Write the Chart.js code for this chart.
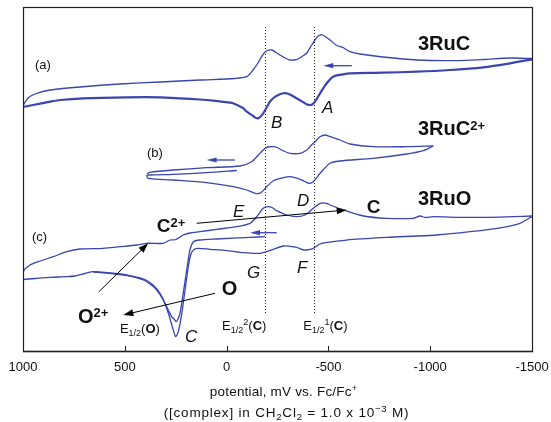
<!DOCTYPE html>
<html><head><meta charset="utf-8">
<script src="https://cdn.jsdelivr.net/npm/chart.js@4/dist/chart.umd.min.js"></script>
<style>html,body{margin:0;padding:0;background:#fff;}</style>
</head><body>
<canvas id="cv" width="551" height="422"></canvas>
<script>
// ---- DATA (potential in mV vs Fc/Fc+, current in arbitrary offset units) ----
const xTickValues = [1000, 500, 0, -500, -1000, -1500];
const halfWavePotentials = [-189, -431];   // E1/2^2(C), E1/2^1(C)
const dottedSpan = [38, 324];

// (a) 3RuC
const ruC_upper = [[1000,244],[995,247],[975,253],[941,257],[867,261],[720,264],[524,267],[327,269],[131,271],[-41,272.5],[-99,274.3],[-130,281],[-154,288],[-172,294.3],[-189,299],[-203,300.7],[-222,301],[-243,298.5],[-262,296],[-287,293],[-311,291],[-331,291],[-351,292],[-370,294.5],[-394,298],[-418,306],[-443,313.7],[-459,316],[-472,316],[-488,314],[-508,311],[-541,305.5],[-572,303.5],[-606,299.3],[-655,297],[-768,294],[-934,291],[-1097,290.3],[-1260,291.5],[-1392,293],[-1500,292.5]];
const ruC_lower = [[-1500,291.7],[-1392,287.7],[-1260,283.7],[-1097,281],[-935,279.3],[-768,278.3],[-606,277.7],[-572,276.7],[-523,274.3],[-492,267.7],[-459,257.7],[-434,249.3],[-420,246.5],[-410,246],[-395,246.5],[-385,247.7],[-344,252.7],[-311,256.5],[-295,257.7],[-272,257.5],[-254,256],[-233,253.5],[-213,249.3],[-180,237.7],[-156,232.7],[-140,233.5],[-131,235],[-99,239.3],[-82,242.7],[-32,247.7],[-17,248.3],[65,250.3],[131,251.5],[229,252.7],[327,253.7],[491,253.7],[704,252.7],[818,251],[867,249.3],[951,246],[1000,244]];

// (b) 3RuC2+
const ruC2_first = [[-50,180.5],[98,178.3],[262,176.7],[376,176],[392,175.5],[385,172.7],[262,171],[98,168.3],[-33,164.3],[-99,161],[-140,157.7],[-168,158.3],[-197,164.3],[-230,170.3],[-279,173.3],[-311,174.3],[-361,171.7],[-385,169.5],[-405,167.7],[-426,169.3],[-459,177.7],[-508,187.7],[-557,190],[-719,192.7],[-885,197],[-966,200.3],[-1015,205]];
const ruC2_second = [[-1015,205],[-885,204.3],[-721,204.3],[-606,207],[-557,211],[-508,214.3],[-483,216],[-459,214.3],[-434,209.3],[-410,204.5],[-394,201],[-361,197.7],[-311,197.7],[-277,200.3],[-248,203.5],[-230,204.3],[-203,204],[-189,202.7],[-156,196],[-123,189.3],[-66,185],[98,183.3],[262,181],[376,178.7],[392,177]];

// (c) 3RuO
const ruO_start = [[-189,114.3],[-115,113.7],[48,112],[131,111],[163,109.3],[180,101],[196,81],[213,57.7],[229,37.7],[241,31],[248,29.3],[258,32],[270,34.3],[294,44.3],[327,57.7],[361,66],[392,70.5],[425,73],[489,75.5],[587,78],[655,79]];
const ruO_upper = [[1000,71.5],[999,79.3],[966,86],[916,90],[851,94.3],[785,99.3],[720,102],[606,102.7],[524,104.3],[442,106],[392,107.7],[311,107.7],[278,111],[248,111.5],[213,116],[180,118],[131,119.3],[48,121.7],[-50,124.3],[-115,127.7],[-148,134.3],[-180,142.7],[-205,144.3],[-223,143.5],[-246,140.3],[-295,136],[-344,134.3],[-385,136],[-426,142.7],[-459,147.7],[-492,147.7],[-508,146],[-573,141],[-672,135],[-787,132.7],[-917,132.7],[-950,135],[-975,133.5],[-1015,134.3],[-1147,133.7],[-1278,133.7],[-1408,134.3],[-1500,135]];
const ruO_lower = [[-1500,134.5],[-1441,127.7],[-1359,123.7],[-1196,119.3],[-1032,116],[-787,113.7],[-622,111.7],[-524,109.3],[-459,107],[-426,102.7],[-394,101],[-370,101.5],[-344,103.7],[-311,104.7],[-279,105],[-230,101.7],[-197,99.3],[-164,97.7],[-131,97.7],[-82,98.3],[-1,100.3],[81,101.7],[139,102.7],[160,101.5],[175,97],[188,84.3],[204,61],[220,37.7],[237,19.3],[250,14.3],[262,21],[286,37.7],[311,51],[343,61],[376,67],[409,71],[491,76],[589,78.3],[655,79.3],[695,77.5],[745,75],[785,74.3],[867,73.7],[941,72.5],[1000,71.5]];

// scan-direction arrows (tail -> head) and reaction arrows
const scanArrows = [[[-615,285.3],[-475,285.3]], [[-41,191],[98,191]], [[-246,118.3],[-115,118.3]]];
const reactionArrows = [[[627,59.3],[385,107.7]], [[57,57.7],[507,36]], [[147,127.7],[-590,141]]];

// ---- STYLE / LABELS ----
const FONT = '"Liberation Sans", Arial, Helvetica, sans-serif';
const BLUE = '#3a45ad';
const labels = [
  {at:[-940,301], parts:[['3RuC',20,'bold']]},
  {at:[-940,216], parts:[['3RuC',20,'bold'],['2+',13,'bold',-5]]},
  {at:[-940,146], parts:[['3RuO',20,'bold']]},
  {at:[941,282], parts:[['(a)',13]]},
  {at:[391,194], parts:[['(b)',13]]},
  {at:[956,110], parts:[['(c)',13]]},
  {at:[-469,238], parts:[['A',17,'normal',0,'italic']]},
  {at:[-218,223], parts:[['B',17,'normal',0,'italic']]},
  {at:[-346,145], parts:[['D',17,'normal',0,'italic']]},
  {at:[-32,134], parts:[['E',17,'normal',0,'italic']]},
  {at:[-100,73], parts:[['G',17,'normal',0,'italic']]},
  {at:[-346,78], parts:[['F',17,'normal',0,'italic']]},
  {at:[204,9], parts:[['C',17,'normal',0,'italic']]},
  {at:[343,119.3], parts:[['C',19,'bold'],['2+',13,'bold',-5]]},
  {at:[730,28], parts:[['O',20,'bold'],['2+',13,'bold',-6]]},
  {at:[24,56], parts:[['O',20,'bold']]},
  {at:[-688,137.7], parts:[['C',19,'bold']]},
  {at:[524,18], parts:[['E',13],['1/2',9,'normal',3],['(',13],['O',13,'bold'],[')',13]]},
  {at:[22,21], parts:[['E',13],['1/2',9,'normal',3],['2',9,'normal',-5],['(',13],['C',13,'bold'],[')',13]]},
  {at:[-377,21], parts:[['E',13],['1/2',9,'normal',3],['1',9,'normal',-5],['(',13],['C',13,'bold'],[')',13]]}
];

function fontOf(p){ return (p[4]||'normal')+' '+(p[2]||'normal')+' '+p[1]+'px '+FONT; }
function rich(ctx, x, y, parts, center, spacing){
  ctx.letterSpacing = (spacing || 0) + 'px';
  let w = 0;
  parts.forEach(p => { ctx.font = fontOf(p); w += ctx.measureText(p[0]).width; });
  let cx = center ? x - w/2 : x;
  parts.forEach(p => { ctx.font = fontOf(p); ctx.fillText(p[0], cx, y + (p[3]||0)); cx += ctx.measureText(p[0]).width; });
  ctx.letterSpacing = '0px';
}
function arrow(ctx, x0, y0, x1, y1, len, half){
  const a = Math.atan2(y1-y0, x1-x0);
  ctx.beginPath(); ctx.moveTo(x0,y0); ctx.lineTo(x1 - Math.cos(a)*len*0.8, y1 - Math.sin(a)*len*0.8); ctx.stroke();
  ctx.beginPath();
  ctx.moveTo(x1,y1);
  ctx.lineTo(x1 - Math.cos(a)*len - Math.sin(a)*half, y1 - Math.sin(a)*len + Math.cos(a)*half);
  ctx.lineTo(x1 - Math.cos(a)*len + Math.sin(a)*half, y1 - Math.sin(a)*len - Math.cos(a)*half);
  ctx.closePath(); ctx.fill();
}

const annot = {
  id: 'annot',
  beforeDatasetsDraw(chart){
    const ctx = chart.ctx, xs = chart.scales.x, ys = chart.scales.y;
    ctx.save();
    ctx.strokeStyle = '#222'; ctx.lineWidth = 1; ctx.setLineDash([1,2]);
    halfWavePotentials.forEach(v => {
      const X = Math.round(xs.getPixelForValue(v)) + 0.5;
      ctx.beginPath(); ctx.moveTo(X, ys.getPixelForValue(dottedSpan[1])); ctx.lineTo(X, ys.getPixelForValue(dottedSpan[0])); ctx.stroke();
    });
    ctx.restore();
  },
  afterDatasetsDraw(chart){
    const ctx = chart.ctx, xs = chart.scales.x, ys = chart.scales.y, ca = chart.chartArea;
    const P = d => [xs.getPixelForValue(d[0]), ys.getPixelForValue(d[1])];
    ctx.save();
    ctx.strokeStyle = '#222'; ctx.lineWidth = 1.2;
    ctx.strokeRect(ca.left + 0.5, ca.top + 0.5, ca.right - ca.left, ca.bottom - ca.top);
    ctx.lineWidth = 1.6;
    ctx.beginPath(); ctx.moveTo(ca.left, ca.bottom + 0.5); ctx.lineTo(ca.right + 1, ca.bottom + 0.5); ctx.stroke();
    ctx.lineWidth = 1;
    xTickValues.forEach(v => {
      const X = Math.round(xs.getPixelForValue(v)) + 0.5;
      ctx.beginPath(); ctx.moveTo(X, ca.bottom); ctx.lineTo(X, ca.bottom - 5); ctx.stroke();
    });
    ctx.strokeStyle = BLUE; ctx.fillStyle = BLUE; ctx.lineWidth = 1.3;
    scanArrows.forEach(a => { const p0 = P(a[0]), p1 = P(a[1]); arrow(ctx, p0[0], p0[1], p1[0], p1[1], 10, 2.6); });
    ctx.strokeStyle = '#000'; ctx.fillStyle = '#000'; ctx.lineWidth = 1;
    reactionArrows.forEach(a => { const p0 = P(a[0]), p1 = P(a[1]); arrow(ctx, p0[0], p0[1], p1[0], p1[1], 10, 3.5); });
    ctx.fillStyle = '#111'; ctx.textBaseline = 'alphabetic'; ctx.textAlign = 'left';
    labels.forEach(l => { const p = P(l.at); rich(ctx, p[0], p[1], l.parts, false); });
    const cx = (ca.left + ca.right) / 2 + 6;
    rich(ctx, cx, ca.bottom + 45, [['potential, mV vs. Fc/Fc',13.5],['+',9,'normal',-5]], true, 0.2);
    rich(ctx, cx + 3, ca.bottom + 66, [['([complex] in CH',13.5],['2',9.5,'normal',3],['Cl',13.5],['2',9.5,'normal',3],[' = 1.0 x 10',13.5],['\u22123',9.5,'normal',-5],[' M)',13.5]], true, 0.8);
    ctx.restore();
  }
};

const mk = (arr, w) => ({
  data: arr.map(p => ({x: p[0], y: p[1]})),
  showLine: true, borderColor: BLUE, borderWidth: w, pointRadius: 0, tension: 0.25, fill: false
});

new Chart(document.getElementById('cv'), {
  type: 'scatter',
  data: { datasets: [
    mk(ruC_upper, 1.3), mk(ruC_lower, 2.2),
    mk(ruC2_first, 1.3), mk(ruC2_second, 1.3),
    mk(ruO_start, 1.3), mk(ruO_upper, 1.3), mk(ruO_lower, 1.3)
  ]},
  options: {
    responsive: false, animation: false, devicePixelRatio: 1,
    layout: { padding: { left: 23, right: 19, top: 7, bottom: 0 } },
    plugins: { legend: { display: false }, tooltip: { enabled: false } },
    scales: {
      x: {
        type: 'linear', reverse: true, min: -1500, max: 1000,
        afterBuildTicks: s => { s.ticks = xTickValues.map(v => ({value: v})); },
        afterFit: s => { s.height = 71; s.paddingLeft = 0; s.paddingRight = 0; },
        ticks: { callback: v => String(v), font: { size: 13, family: FONT }, color: '#111', padding: 9, maxRotation: 0, autoSkip: false },
        grid: { display: false, drawTicks: false },
        border: { display: false }
      },
      y: { display: false, min: 0, max: 344 }
    }
  },
  plugins: [annot]
});
</script>
</body></html>
